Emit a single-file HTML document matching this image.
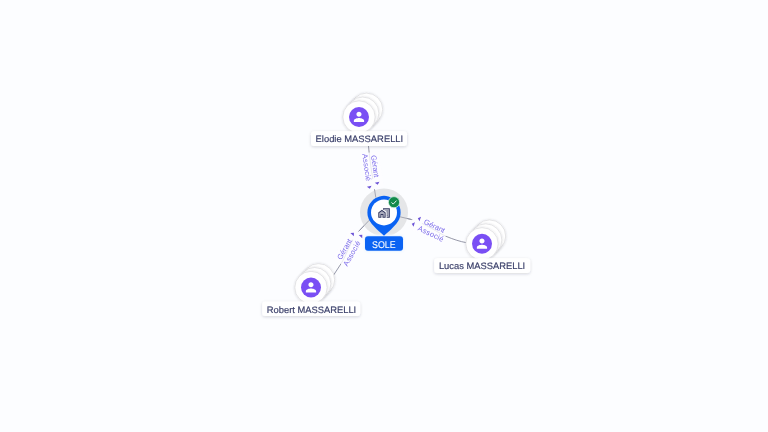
<!DOCTYPE html>
<html lang="fr">
<head>
<meta charset="utf-8">
<title>SOLE</title>
<style>
html,body{margin:0;padding:0;width:768px;height:432px;overflow:hidden;background:#fcfdff;}
svg{display:block;position:absolute;left:0;top:0;opacity:0.999;}
text{font-family:"Liberation Sans",sans-serif;text-rendering:geometricPrecision;}
.lbl{fill:#3c416b;font-size:9.3px;stroke:#3c416b;stroke-width:0.18px;}
.edge{fill:none;stroke:#7b7e92;stroke-width:0.8;}
.rel{fill:#7c6cea;font-size:7.5px;}
.arr{fill:#6c54d6;}
.e2{stroke:#8d90a0;stroke-width:0.75;}
.halo{fill:#fcfdff;opacity:0.8;}
.halo2{fill:#fcfdff;}
.pc{fill:#fff;stroke:#dadadd;stroke-width:0.7;filter:url(#sh);}
</style>
</head>
<body>
<svg width="768" height="432" viewBox="0 0 768 432">
<defs>
  <filter id="sh" x="-30%" y="-30%" width="160%" height="160%">
    <feDropShadow dx="0" dy="0.4" stdDeviation="1.1" flood-color="#3a3c48" flood-opacity="0.2"/>
  </filter>
  <filter id="sh2" x="-30%" y="-60%" width="160%" height="240%">
    <feDropShadow dx="0" dy="1" stdDeviation="1.4" flood-color="#1c2340" flood-opacity="0.18"/>
  </filter>
  <filter id="glow" x="-20%" y="-40%" width="140%" height="180%"><feGaussianBlur stdDeviation="1.1"/></filter>
</defs>

<!-- edges -->
<path class="edge" d="M368.4 145 C369.4 158 372 175 374.5 189.3 L375.8 197.5"/>
<path class="edge" d="M400 216.8 L411.4 219.5 C424 222.5 440 234 446 236.3 C454 239.6 460 241.5 466 242.6"/>
<path class="edge" d="M369.3 220.2 L358.3 231.7 C352.1 238.2 346 256.1 341.1 263.6 L333 276"/>

<!-- relation labels -->
<g transform="translate(371.8 170.4) rotate(82.0)">
  <rect class="halo" x="-18.10" y="-9.6" width="36.20" height="19.2"/>
  <rect class="halo2" x="8.70" y="-3" width="10.60" height="6"/>
  <text class="rel" x="-14.90" y="-1.3" textLength="22.4" lengthAdjust="spacing">Gérant</text>
  <text class="rel" x="-17.50" y="7.2" textLength="27.6" lengthAdjust="spacing">Associé</text>
</g>
<g transform="translate(429.5 227.9) rotate(25.5)">
  <rect class="halo" x="-18.10" y="-9.6" width="36.20" height="19.2"/>
  <rect class="halo2" x="-19.10" y="-3" width="10.40" height="6"/>
  <text class="rel" x="-7.50" y="-1.3" textLength="22.4" lengthAdjust="spacing">Gérant</text>
  <text class="rel" x="-10.10" y="7.2" textLength="27.6" lengthAdjust="spacing">Associé</text>
</g>
<g transform="translate(349.7 247.9) rotate(-60.5)">
  <rect class="halo" x="-18.10" y="-9.6" width="36.20" height="19.2"/>
  <rect class="halo2" x="8.70" y="-3" width="10.60" height="6"/>
  <text class="rel" x="-14.90" y="-1.3" textLength="22.4" lengthAdjust="spacing">Gérant</text>
  <text class="rel" x="-17.50" y="7.2" textLength="27.6" lengthAdjust="spacing">Associé</text>
</g>
<path class="arr" d="M377.74 184.78 L374.76 182.87 L379.40 181.65 Z"/>
<path class="arr" d="M369.84 188.78 L366.86 186.87 L371.50 185.65 Z"/>
<path class="arr" d="M417.80 218.27 L421.01 216.78 L419.54 221.35 Z"/>
<path class="arr" d="M411.75 223.77 L414.96 222.28 L413.49 226.85 Z"/>
<path class="arr" d="M353.91 232.76 L353.82 236.29 L350.37 232.95 Z"/>
<path class="arr" d="M362.31 234.76 L362.22 238.29 L358.77 234.95 Z"/>

<!-- center node -->
<circle cx="384" cy="212.4" r="24" fill="#e5e6e8"/>
<path class="edge e2" d="M374.5 189.3 L375.8 197.5"/>
<path class="edge e2" d="M400 216.8 L411.4 219.5"/>
<path class="edge e2" d="M369.3 220.2 L358.3 231.7"/>
<rect x="363.6" y="234.8" width="40.8" height="17.4" rx="4" fill="#f4f9ff" filter="url(#glow)"/>
<rect x="364.4" y="235.6" width="39.2" height="15.8" rx="3.6" fill="#e6f1ff"/>
<path d="M384 235.7 C376.4 229 372.1 225 369.6 220.7 A16.6 16.6 0 1 1 398.4 220.7 C395.9 225 391.6 229 384 235.7 Z" fill="#0b63f3"/>
<circle cx="384" cy="212.4" r="13" fill="#ffffff"/>
<g transform="translate(377.75 206.7) scale(0.525)" fill="#33385f">
  <path d="M17 11h2v2h-2v2h2v2h-2v2h4V5h-9v1.400l5 3.570V11zm0-4h2v2h-2V7z" opacity=".4"/>
  <path d="M10 3v1.970l.96.690L12 6.400V5h9v14h-4v2h6V3z"/>
  <path d="M3 12v7h2v-5h6v5h2v-7L8 8.500z" opacity=".4"/>
  <path d="M17 7h2v2h-2zm0 4h2v2h-2zm0 4h2v2h-2zM1 11v10h6v-5h2v5h6V11L8 6l-7 5zm12 8h-2v-5H5v5H3v-7l5-3.500 5 3.500v7z"/>
</g>
<circle cx="394" cy="202.2" r="5.6" fill="#128a4b" stroke="#d9f3e2" stroke-width="0.8"/>
<path d="M391.5 202.4 l1.7 1.7 l3.3-3.5" fill="none" stroke="#fff" stroke-width="0.9"/>
<rect x="365" y="236.2" width="38" height="14.6" rx="3" fill="#0b63f3"/>
<text x="372.1" y="247.7" font-size="9.7" fill="#ffffff" stroke="#ffffff" stroke-width="0.08" textLength="23.6" lengthAdjust="spacingAndGlyphs">SOLE</text>

<!-- person nodes -->
<g transform="translate(359 117)">
  <circle cx="7.5" cy="-7.7" r="16.2" class="pc"/>
  <circle cx="3.7" cy="-3.8" r="16.2" class="pc"/>
  <circle cx="0" cy="0" r="16.2" class="pc"/>
  <circle cx="0" cy="0" r="10" fill="#7a4ff4"/>
  <path transform="translate(-7.7 -7.9) scale(0.64)" fill="#fff" d="M12 12c2.21 0 4-1.79 4-4s-1.790-4-4-4-4 1.790-4 4 1.790 4 4 4zm0 2c-2.670 0-8 1.340-8 4v2h16v-2c0-2.660-5.330-4-8-4z"/>
</g>
<rect x="311" y="131.3" width="96" height="14.6" rx="3" fill="#fff" filter="url(#sh2)"/>
<text class="lbl" x="315.6" y="141.9" textLength="87.6" lengthAdjust="spacingAndGlyphs">Elodie MASSARELLI</text>

<g transform="translate(482 243.8)">
  <circle cx="7.5" cy="-7.7" r="16.2" class="pc"/>
  <circle cx="3.7" cy="-3.8" r="16.2" class="pc"/>
  <circle cx="0" cy="0" r="16.2" class="pc"/>
  <circle cx="0" cy="0" r="10" fill="#7a4ff4"/>
  <path transform="translate(-7.7 -7.9) scale(0.64)" fill="#fff" d="M12 12c2.21 0 4-1.79 4-4s-1.790-4-4-4-4 1.790-4 4 1.790 4 4 4zm0 2c-2.670 0-8 1.340-8 4v2h16v-2c0-2.660-5.330-4-8-4z"/>
</g>
<rect x="434.2" y="258.3" width="96" height="14.6" rx="3" fill="#fff" filter="url(#sh2)"/>
<text class="lbl" x="438.9" y="268.8" textLength="86.3" lengthAdjust="spacingAndGlyphs">Lucas MASSARELLI</text>

<g transform="translate(311 287.5)">
  <circle cx="7.5" cy="-7.7" r="16.2" class="pc"/>
  <circle cx="3.7" cy="-3.8" r="16.2" class="pc"/>
  <circle cx="0" cy="0" r="16.2" class="pc"/>
  <circle cx="0" cy="0" r="10" fill="#7a4ff4"/>
  <path transform="translate(-7.7 -7.9) scale(0.64)" fill="#fff" d="M12 12c2.21 0 4-1.79 4-4s-1.790-4-4-4-4 1.790-4 4 1.790 4 4 4zm0 2c-2.670 0-8 1.340-8 4v2h16v-2c0-2.660-5.330-4-8-4z"/>
</g>
<rect x="262.2" y="301.5" width="98" height="14.6" rx="3" fill="#fff" filter="url(#sh2)"/>
<text class="lbl" x="266.8" y="312.5" textLength="89.4" lengthAdjust="spacingAndGlyphs">Robert MASSARELLI</text>
</svg>
</body>
</html>
